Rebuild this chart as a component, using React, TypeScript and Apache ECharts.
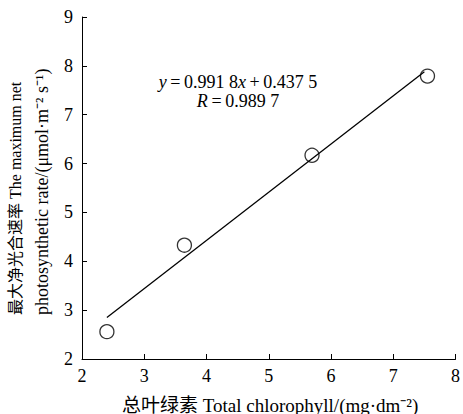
import React, { useEffect, useRef } from "react";
import * as echarts from "echarts";

const chlorophyll = [2.4, 3.645, 5.695, 7.55];
const netRate = [2.56, 4.33, 6.17, 7.79];
const fitX = [2.4, 7.5];
const fitY = [2.85, 7.88];
const xTicks = { min: 2, max: 8, interval: 1 };
const yTicks = { min: 2, max: 9, interval: 1 };
const eqLine1 = "{i|y}\u2009=\u20090.991 8{i|x}\u2009+\u20090.437 5";
const eqLine2 = "{i|R}\u2009=\u20090.989 7";
const yTitle1 = "最大净光合速率 The maximum net";
const yTitle2 = "photosynthetic rate/(μmol·m⁻² s⁻¹)";
const xTitle = "总叶绿素 Total chlorophyll/(mg·dm⁻²)";

const FONT = '"Liberation Serif", "Noto Sans CJK SC", serif';

export default function App() {
  const ref = useRef<HTMLDivElement>(null);
  useEffect(() => {
    if (!ref.current) return;
    const chart = echarts.init(ref.current, undefined, { renderer: "svg" });
    const axisCommon = {
      axisLine: { show: true, lineStyle: { color: "#000", width: 1 } },
      axisTick: { show: true, inside: true, length: 5, lineStyle: { color: "#000", width: 1 } },
      axisLabel: { color: "#000", fontFamily: FONT, fontSize: 18 },
      splitLine: { show: false },
    };
    const EQ = 18;
    const eqRich = { i: { fontStyle: "italic", fontFamily: FONT, fontSize: EQ, fill: "#000" } };
    const txt = (size: number) => ({ fontSize: size, fontFamily: FONT, fill: "#000" });
    chart.setOption({
      animation: false,
      backgroundColor: "#fff",
      grid: { left: 82, right: 5, top: 17, bottom: 55, containLabel: false },
      xAxis: {
        type: "value",
        ...xTicks,
        ...axisCommon,
        axisLabel: { ...axisCommon.axisLabel, margin: 8 },
      },
      yAxis: {
        type: "value",
        ...yTicks,
        ...axisCommon,
        axisLabel: { ...axisCommon.axisLabel, margin: 9 },
      },
      series: [
        {
          type: "line",
          data: fitX.map((x, i) => [x, fitY[i]]),
          symbol: "none",
          lineStyle: { color: "#000", width: 1.3 },
          z: 1,
        },
        {
          type: "scatter",
          data: chlorophyll.map((x, i) => [x, netRate[i]]),
          symbol: "circle",
          symbolSize: 14,
          itemStyle: { color: "rgba(0,0,0,0)", borderColor: "#000", borderWidth: 1.3 },
          z: 2,
        },
      ],
      graphic: [
        {
          type: "text",
          x: 238,
          y: 82,
          style: {
            text: eqLine1,
            ...txt(EQ),
            textAlign: "center",
            textVerticalAlign: "middle",
            rich: eqRich,
          },
        },
        {
          type: "text",
          x: 238,
          y: 101,
          style: {
            text: eqLine2,
            ...txt(EQ),
            textAlign: "center",
            textVerticalAlign: "middle",
            rich: eqRich,
          },
        },
        {
          type: "text",
          x: 15,
          y: 315,
          rotation: Math.PI / 2,
          style: {
            text: yTitle1,
            ...txt(16),
            textAlign: "left",
            textVerticalAlign: "middle",
          },
        },
        {
          type: "text",
          x: 42,
          y: 315,
          rotation: Math.PI / 2,
          style: {
            text: yTitle2,
            ...txt(18),
            textAlign: "left",
            textVerticalAlign: "middle",
          },
        },
        {
          type: "text",
          x: 122,
          y: 405,
          style: {
            text: xTitle,
            ...txt(19),
            textAlign: "left",
            textVerticalAlign: "middle",
          },
        },
      ],
    });
    return () => chart.dispose();
  }, []);
  return (
    <div
      ref={ref}
      style={{ position: "fixed", left: 0, top: 0, width: 463, height: 414, background: "#fff" }}
    />
  );
}
